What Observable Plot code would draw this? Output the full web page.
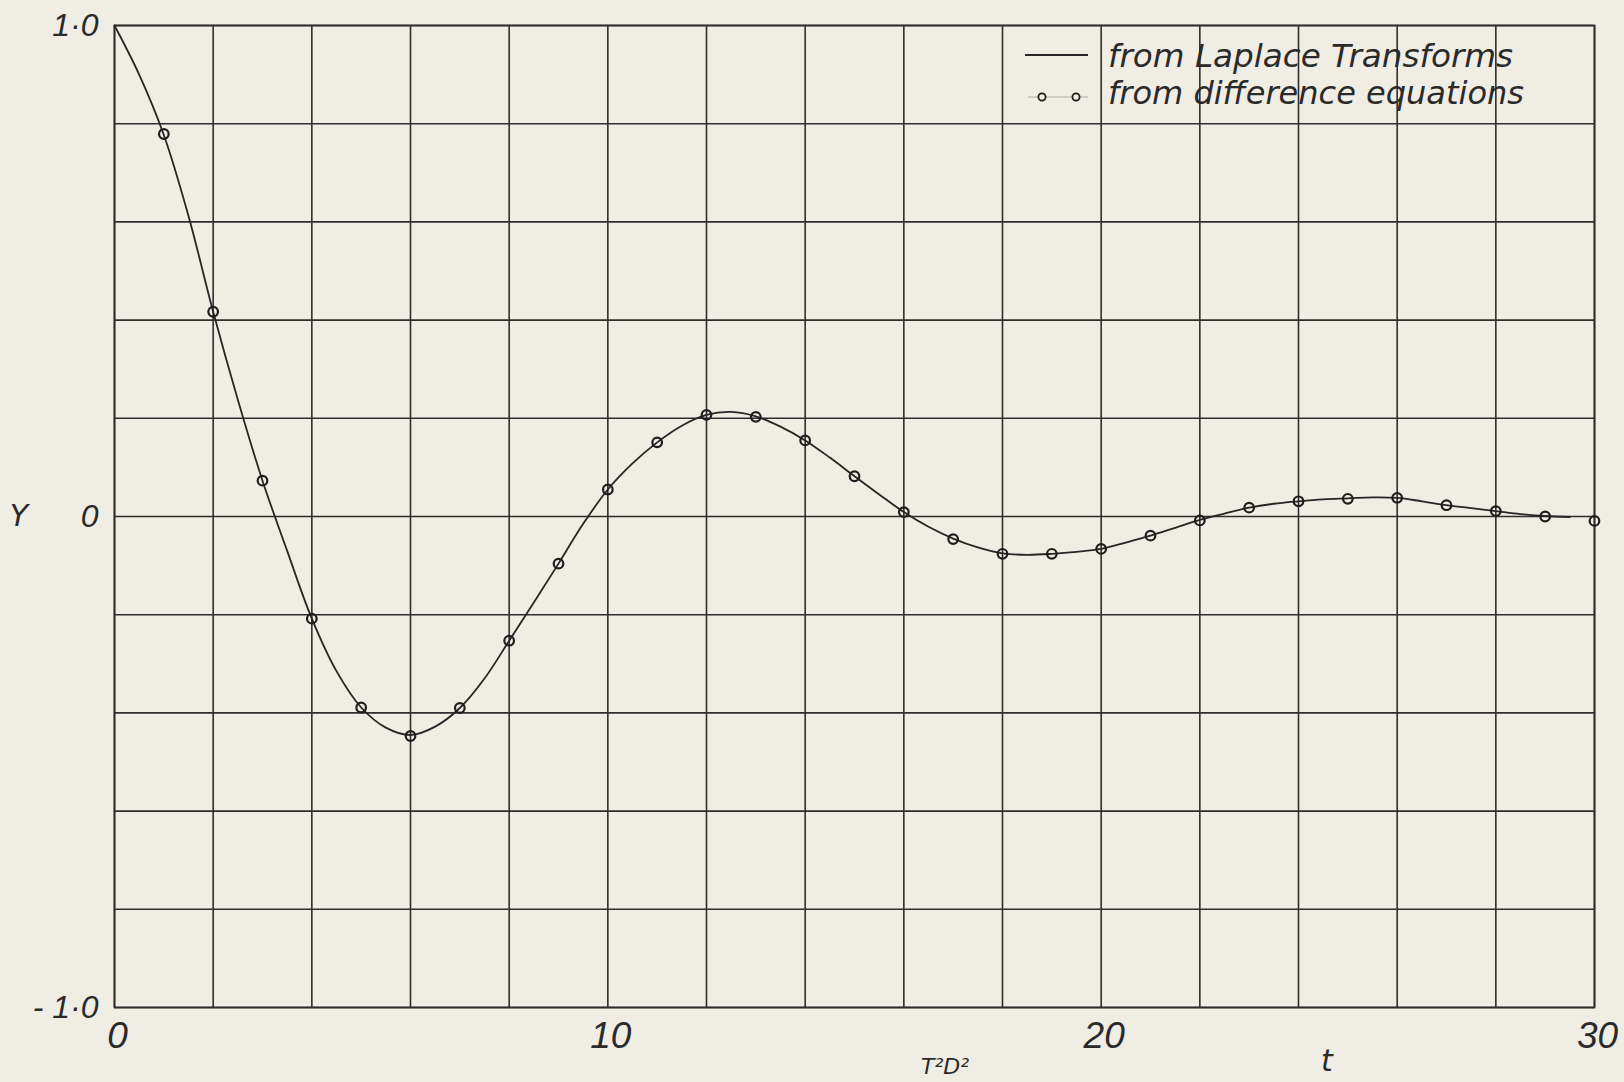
<!DOCTYPE html>
<html>
<head>
<meta charset="utf-8">
<script src="https://cdn.jsdelivr.net/npm/d3@7"></script>
<script src="https://cdn.jsdelivr.net/npm/@observablehq/plot@0.6"></script>
<style>
  html, body { margin: 0; padding: 0; background: #f0ede5; overflow: hidden; }
  #wrap { position: relative; width: 1624px; height: 1082px; }
  #overlay { position: absolute; left: 0; top: 0; pointer-events: none; }
  .hand { font-family: "DejaVu Sans", sans-serif; font-style: italic; fill: #2a2a2a; }
</style>
</head>
<body>
<div id="wrap"></div>
<script>
// ---- data ----
// Laplace-transform solution (continuous curve)
const laplaceT = [0, 0.5, 1, 1.5, 2, 2.5, 3, 3.5, 4, 4.5, 5, 5.5, 6, 6.5, 7, 7.5, 8, 8.5, 9, 9.5,
  10, 10.5, 11, 11.5, 12, 12.5, 13, 13.5, 14, 14.5, 15, 15.5, 16, 16.5, 17, 17.5, 18, 18.5, 19, 19.5,
  20, 20.5, 21, 21.5, 22, 22.5, 23, 23.5, 24, 24.5, 25, 25.5, 26, 26.5, 27, 27.5, 28, 28.5, 29, 29.5];
const laplaceY = [1.0, 0.9, 0.777, 0.612, 0.417, 0.238, 0.073, -0.07, -0.208, -0.315, -0.389, -0.43, -0.445, -0.428, -0.39, -0.33, -0.253, -0.175, -0.096, -0.015,
  0.055, 0.108, 0.151, 0.185, 0.207, 0.213, 0.204, 0.183, 0.155, 0.12, 0.082, 0.045, 0.009, -0.021, -0.045, -0.063, -0.075, -0.078, -0.076, -0.072,
  -0.066, -0.053, -0.039, -0.023, -0.007, 0.006, 0.018, 0.026, 0.031, 0.035, 0.037, 0.039, 0.038, 0.031, 0.023, 0.017, 0.011, 0.005, 0.001, -0.001];

// Difference-equation solution (circles)
const diffT = [1, 2, 3, 4, 5, 6, 7, 8, 9, 10, 11, 12, 13, 14, 15, 16, 17, 18, 19, 20,
  21, 22, 23, 24, 25, 26, 27, 28, 29, 30];
const diffY = [0.779, 0.417, 0.073, -0.208, -0.389, -0.447, -0.39, -0.253, -0.096, 0.055,
  0.151, 0.207, 0.203, 0.155, 0.082, 0.009, -0.046, -0.076, -0.076, -0.066,
  -0.039, -0.008, 0.018, 0.031, 0.036, 0.038, 0.023, 0.011, 0.0, -0.009];

// grid and tick labels
const xGrid = [0, 2, 4, 6, 8, 10, 12, 14, 16, 18, 20, 22, 24, 26, 28, 30];
const yGrid = [-1, -0.8, -0.6, -0.4, -0.2, 0, 0.2, 0.4, 0.6, 0.8, 1];
const xTicks = [0, 10, 20, 30];
const xTickLabels = ["0", "10", "20", "30"];
const yTicks = [-1, 0, 1];
const yTickLabels = ["- 1·0", "0", "1·0"];

const legendLabels = ["from  Laplace  Transforms", "from  difference  equations"];
const yLabel = "Y";
const xLabel = "t";
const cutLabel = "T²D²";

// ---- build ----
const laplace = laplaceT.map((t, i) => ({t, y: laplaceY[i]}));
const diff = diffT.map((t, i) => ({t, y: diffY[i]}));
const font = '"Liberation Sans", "DejaVu Sans", sans-serif';
const ink = "#2a2a2a";

const chart = Plot.plot({
  width: 1624,
  height: 1082,
  marginLeft: 114,
  marginRight: 30,
  marginTop: 25,
  marginBottom: 75,
  style: {background: "transparent", color: ink, fontFamily: font},
  x: {domain: [0, 30]},
  y: {domain: [-1, 1]},
  marks: [
    Plot.gridX(xGrid, {stroke: "#2e2e2e", strokeOpacity: 1, strokeWidth: 1.6}),
    Plot.gridY(yGrid, {stroke: "#2e2e2e", strokeOpacity: 1, strokeWidth: 1.6}),
    Plot.frame({stroke: "#2e2e2e", strokeWidth: 1.8}),
    Plot.line(laplace, {x: "t", y: "y", curve: "catmull-rom", stroke: "#262626", strokeWidth: 1.8}),
    Plot.dot(diff, {x: "t", y: "y", r: 4.8, stroke: "#1e1e1e", strokeWidth: 2.2, fill: "none"}),
    Plot.axisX(xTicks, {tickSize: 0, tickPadding: 14, fontSize: 37, fontStyle: "italic", dx: 3,
      tickFormat: d => xTickLabels[xTicks.indexOf(d)], label: null}),
    Plot.axisY(yTicks, {tickSize: 0, tickPadding: 16, fontSize: 32, fontStyle: "italic",
      tickFormat: d => yTickLabels[yTicks.indexOf(d)], label: null})
  ]
});

const wrap = document.getElementById("wrap");
wrap.appendChild(chart);

// overlay for axis titles and legend
const ov = d3.select(wrap).append("svg")
  .attr("id", "overlay").attr("width", 1624).attr("height", 1082);

ov.append("text").attr("class", "hand").attr("x", 19).attr("y", 526)
  .attr("text-anchor", "middle").attr("font-size", 30).text(yLabel);
ov.append("text").attr("class", "hand").attr("x", 1327).attr("y", 1071)
  .attr("text-anchor", "middle").attr("font-size", 30).text(xLabel);
ov.append("text").attr("class", "hand").attr("x", 945).attr("y", 1074)
  .attr("text-anchor", "middle").attr("font-size", 22).text(cutLabel);

// legend
const lg = ov.append("g");
lg.append("line").attr("x1", 1025).attr("x2", 1088).attr("y1", 55).attr("y2", 55)
  .attr("stroke", "#262626").attr("stroke-width", 2);
lg.append("line").attr("x1", 1028).attr("x2", 1088).attr("y1", 97).attr("y2", 97)
  .attr("stroke", "#b0aca4").attr("stroke-width", 1);
[1042, 1076].forEach(cx => lg.append("circle").attr("cx", cx).attr("cy", 97).attr("r", 3.6)
  .attr("fill", "#f0ede5").attr("stroke", "#1e1e1e").attr("stroke-width", 1.8));
lg.append("text").attr("class", "hand").attr("x", 1108).attr("y", 67).attr("font-size", 32)
  .attr("textLength", 405).attr("lengthAdjust", "spacingAndGlyphs").text(legendLabels[0]);
lg.append("text").attr("class", "hand").attr("x", 1108).attr("y", 104).attr("font-size", 32)
  .attr("textLength", 416).attr("lengthAdjust", "spacingAndGlyphs").text(legendLabels[1]);
</script>
</body>
</html>
